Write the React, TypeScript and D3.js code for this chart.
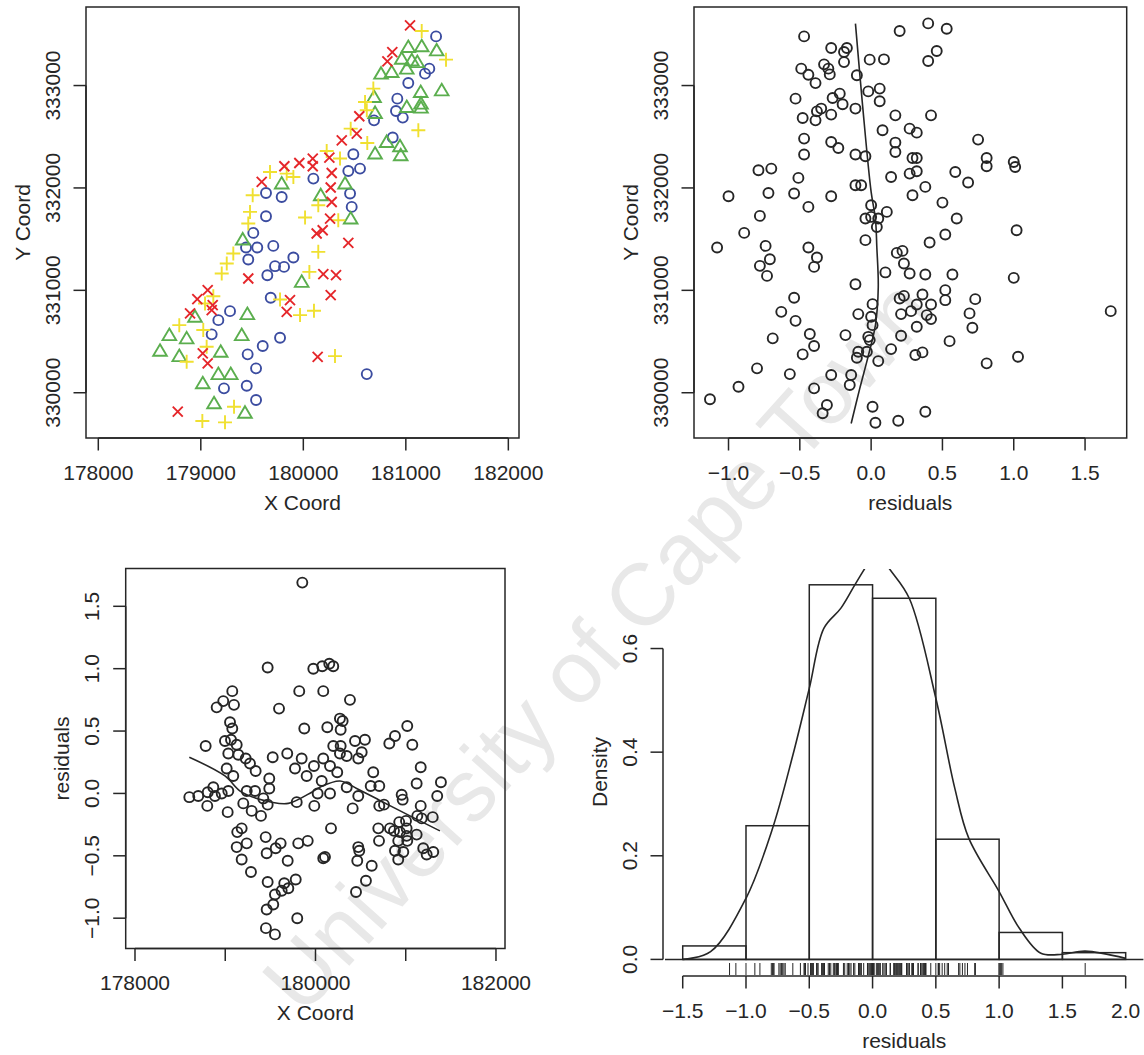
import React from "react";
import * as d3 from "d3";

const FONT = "'Liberation Sans', Arial, Helvetica, sans-serif";
const INK = "#262626";
const FS = 21;

// ---------- Panel 1: coordinates by residual class ----------
const crossPts: [number, number][] = [
  [181041,333587],[180868,333327],[180820,333236],[180546,332700],[180521,332531],[180375,332465],
  [180092,332287],[180092,332212],[180254,332296],[179961,332244],[179815,332212],[179594,332059],
  [180277,332146],[180267,332004],[180277,331863],[180261,331701],[180189,331587],[180130,331555],
  [180439,331463],[179463,331116],[180195,331158],[180319,331148],[180267,330953],[179870,330904],
  [179838,330790],[179067,331002],[178966,330914],[179116,330856],[179106,330807],[178895,330775],
  [179019,330384],[179067,330287],[180140,330351],[178775,329815]
];
const plusPts: [number, number][] = [
  [181155,333532],[181392,333253],[180683,332970],[180602,332839],[180619,332758],[180462,332579],
  [180624,332439],[181122,332563],[180228,332361],[180358,332287],[179675,332156],[179838,332140],
  [179903,332107],[179506,331929],[179480,331766],[179463,331653],[180017,331711],[180146,331831],
  [180341,331685],[179317,331360],[179253,331262],[179204,331165],[180146,331376],[180059,331180],
  [179773,330911],[179968,330758],[180104,330800],[179122,330943],[179041,330872],[178790,330660],
  [179024,330612],[179057,330449],[178862,330302],[180309,330358],[179324,329863],[179015,329724],
  [179236,329711]
];
const trianglePts: [number, number][] = [
  [181024,333376],[181155,333383],[181301,333343],[180960,333262],[181058,333246],[181112,333229],
  [181009,333165],[180758,333116],[180862,333132],[181145,332937],[181350,332953],[180690,332888],
  [181009,332790],[181148,332823],[181148,332784],[180700,332732],[180813,332449],[180943,332407],
  [180950,332319],[180700,332336],[179789,332043],[180407,332043],[180170,331929],[180462,331701],
  [179409,331497],[179984,331083],[179454,330768],[178943,330742],[179399,330563],[178693,330563],
  [178862,330531],[178602,330410],[178790,330358],[179194,330400],[179171,330182],[179292,330182],
  [179019,330092],[179129,329897],[179431,329805]
];
const circlePts: [number, number][] = [
  [181295,333480],[181229,333165],[181187,333116],[181024,333025],[180917,332872],[180904,332751],
  [180970,332687],[180690,332660],[180872,332492],[180488,332329],[180439,332166],[180553,332189],
  [180098,332091],[179636,331951],[179789,331912],[180456,331945],[180472,331815],[179636,331724],
  [179512,331561],[179441,331419],[179551,331419],[179707,331434],[179463,331301],[179903,331321],
  [179724,331236],[179812,331229],[179649,331148],[179682,330927],[179285,330797],[179171,330709],
  [179106,330570],[179773,330537],[179604,330456],[179457,330375],[179539,330238],[179226,330043],
  [179448,330068],[179539,329929],[180619,330182]
];

// ---------- Panel 2: residual vs Y coord ----------
const residY: [number, number][] = [
  [-0.47,333480],[-0.28,333366],[-0.19,333327],[-0.17,333366],[-0.01,333253],[0.09,333256],[0.20,333532],
  [0.40,333607],[0.53,333555],[0.46,333337],[0.40,333239],[-0.33,333207],[-0.30,333165],[-0.29,333109],
  [-0.19,333229],[-0.49,333165],[-0.44,333106],[-0.39,333024],[-0.10,333100],[-0.02,332943],[0.06,332970],
  [0.06,332846],[-0.53,332872],[-0.27,332878],[-0.22,332921],[-0.20,332817],[-0.11,332775],[-0.38,332748],
  [-0.35,332775],[-0.28,332716],[-0.48,332683],[-0.39,332660],[0.17,332709],[0.42,332709],[0.08,332563],
  [0.27,332579],[0.32,332540],[-0.47,332482],[-0.28,332449],[-0.23,332390],[0.17,332443],[0.17,332351],
  [-0.47,332326],[-0.11,332326],[-0.04,332309],[0.29,332293],[0.32,332293],[-0.79,332173],[-0.70,332189],
  [-0.51,332098],[-0.11,332026],[-0.07,332026],[0.14,332107],[0.27,332140],[0.32,332163],[0.38,332010],
  [0.29,331929],[0.50,331857],[-1.00,331919],[-0.72,331951],[-0.54,331945],[-0.28,331919],[-0.44,331815],
  [-0.78,331727],[0.00,331831],[0.11,331766],[-0.04,331701],[0.00,331717],[0.05,331701],[0.04,331619],
  [-0.89,331561],[-1.08,331419],[-0.74,331434],[-0.71,331304],[-0.78,331239],[-0.73,331141],[-0.44,331419],
  [-0.38,331321],[-0.40,331229],[-0.04,331490],[-0.11,331060],[0.10,331175],[0.18,331366],[0.22,331385],
  [0.23,331262],[0.27,331165],[0.38,331155],[0.41,331467],[0.52,331545],[0.57,331155],[-0.54,330927],
  [-0.63,330790],[-0.53,330702],[-0.69,330531],[-0.43,330573],[-0.40,330456],[-0.48,330375],[-0.18,330563],
  [0.01,330865],[-0.09,330768],[0.00,330742],[0.01,330660],[-0.02,330546],[-0.01,330514],[-0.09,330400],
  [-0.10,330341],[-0.03,330400],[0.05,330309],[0.14,330426],[0.21,330556],[0.21,330768],[0.20,330921],
  [0.23,330946],[0.28,330797],[0.32,330862],[0.36,330960],[0.42,330862],[0.39,330758],[0.42,330719],
  [0.32,330644],[0.31,330368],[0.36,330394],[0.52,331002],[0.52,330904],[0.55,330504],[-0.80,330238],
  [-0.93,330059],[-1.13,329936],[-0.57,330182],[-0.28,330173],[-0.14,330173],[-0.15,330075],[-0.40,330043],
  [-0.31,329880],[-0.34,329799],[0.01,329863],[0.03,329707],[0.19,329727],[0.38,329815],[0.75,332472],
  [0.81,332293],[0.81,332212],[1.00,332254],[1.01,332205],[0.59,332156],[0.68,332053],[0.60,331701],
  [1.02,331587],[1.00,331122],[0.73,330914],[0.69,330775],[0.71,330634],[0.81,330287],[1.03,330351],
  [1.68,330797]
];
const smoothResidY: [number, number][] = [
  [-0.11,333604],[-0.06,332807],[0.0,331961],[0.03,331700],[0.04,331420],[0.05,331030],
  [0.03,330660],[-0.02,330360],[-0.08,330040],[-0.14,329700]
];

// ---------- Panel 3: X coord vs residual ----------
const xResid: [number, number][] = [
  [179854,1.69],[179470,1.01],[179976,1.00],[180075,1.02],[179078,0.82],[178978,0.74],[178905,0.69],
  [179097,0.71],[179820,0.82],[180086,0.82],[179596,0.68],[179053,0.57],[179078,0.52],[179876,0.52],
  [178783,0.38],[178997,0.42],[179064,0.43],[179127,0.39],[179034,0.32],[179145,0.31],[179227,0.28],
  [179274,0.24],[179337,0.18],[179016,0.20],[179089,0.14],[179526,0.29],[179687,0.32],[179847,0.28],
  [179773,0.20],[179983,0.22],[179902,0.14],[180086,0.28],[179488,0.12],[179488,0.04],[180069,0.10],
  [178602,-0.03],[178701,-0.02],[178806,0.01],[178868,0.05],[178886,-0.02],[178961,0.00],[179034,0.02],
  [178801,-0.10],[179238,0.02],[179330,0.02],[179422,-0.04],[179200,-0.08],[179293,-0.14],[179396,-0.18],
  [179470,-0.09],[179792,-0.07],[179987,-0.10],[180024,0.00],[179027,-0.15],[179133,-0.31],[179182,-0.28],
  [179127,-0.43],[179238,-0.40],[179182,-0.53],[179285,-0.63],[179448,-0.35],[179459,-0.48],[179559,-0.44],
  [179614,-0.40],[179692,-0.54],[179809,-0.40],[179914,-0.38],[180086,-0.52],[179470,-0.71],[179654,-0.72],
  [179699,-0.76],[179781,-0.69],[179625,-0.78],[179551,-0.81],[179532,-0.89],[179459,-0.93],[179798,-1.00],
  [179451,-1.08],[179551,-1.13],[180153,1.04],[180197,1.02],[180382,0.75],[180131,0.53],[180271,0.60],
  [180301,0.58],[180279,0.51],[180197,0.38],[180279,0.38],[180271,0.32],[180346,0.30],[180438,0.42],
  [180548,0.43],[180512,0.33],[180474,0.28],[180161,0.22],[180241,0.17],[180161,0.00],[180346,0.05],
  [180474,-0.02],[180412,-0.12],[180640,0.17],[180612,0.06],[180707,0.06],[180707,-0.10],[180759,-0.09],
  [180818,0.40],[180881,0.46],[181017,0.54],[181073,0.39],[180955,-0.01],[180966,-0.05],[181166,0.21],
  [181121,0.08],[181390,0.09],[181349,-0.02],[181166,-0.10],[181128,-0.18],[181177,-0.20],[181299,-0.19],
  [180172,-0.28],[180105,-0.51],[180474,-0.43],[180485,-0.46],[180463,-0.54],[180623,-0.58],[180559,-0.70],
  [180449,-0.79],[180696,-0.28],[180704,-0.38],[180825,-0.28],[180870,-0.30],[180928,-0.23],[181003,-0.22],
  [180936,-0.31],[181010,-0.28],[181010,-0.34],[180917,-0.38],[181017,-0.38],[181121,-0.33],[180881,-0.46],
  [180973,-0.47],[180917,-0.53],[181194,-0.44],[181232,-0.49],[181305,-0.47]
];
const smoothXResid: [number, number][] = [
  [178602,0.29],[178997,0.14],[179182,0.01],[179515,-0.07],[179699,-0.08],[179958,0.01],
  [180050,0.05],[180271,0.10],[180456,0.04],[180751,-0.07],[181047,-0.18],[181379,-0.30]
];

// ---------- Panel 4: histogram of residuals ----------
const histBreaks = [-1.5, -1.0, -0.5, 0.0, 0.5, 1.0, 1.5, 2.0];
const histDensity = [0.026, 0.258, 0.723, 0.697, 0.232, 0.052, 0.013];
const kdeCurve: [number, number][] = [
  [-1.5,0.0],[-1.28,0.015],[-1.0,0.118],[-0.79,0.253],[-0.63,0.394],[-0.5,0.523],[-0.385,0.639],
  [-0.25,0.678],[-0.14,0.723],[-0.06,0.755],[0.03,0.79],[0.13,0.755],[0.29,0.697],[0.5,0.504],
  [0.65,0.33],[0.76,0.234],[1.0,0.131],[1.16,0.06],[1.33,0.012],[1.5,0.01],[1.68,0.016],[2.0,0.002]
];

// ---------- tick labels ----------
const coordXTicks = [178000, 179000, 180000, 181000, 182000];
const coordXLabelsTop = ["178000", "179000", "180000", "181000", "182000"];
const coordXLabelsBottom = ["178000", "", "180000", "", "182000"];
const coordYTicks = [330000, 331000, 332000, 333000];
const coordYLabels = ["330000", "331000", "332000", "333000"];
const residTicksTR = [-1.0, -0.5, 0.0, 0.5, 1.0, 1.5];
const residLabelsTR = ["\u22121.0", "\u22120.5", "0.0", "0.5", "1.0", "1.5"];
const residTicksBL = [-1.0, -0.5, 0.0, 0.5, 1.0, 1.5];
const residLabelsBL = ["\u22121.0", "\u22120.5", "0.0", "0.5", "1.0", "1.5"];
const histXTicks = [-1.5, -1.0, -0.5, 0.0, 0.5, 1.0, 1.5, 2.0];
const histXLabels = ["\u22121.5", "\u22121.0", "\u22120.5", "0.0", "0.5", "1.0", "1.5", "2.0"];
const densTicks = [0.0, 0.2, 0.4, 0.6];
const densLabels = ["0.0", "0.2", "0.4", "0.6"];

const TICK = 12.5;
const LAB = 34;
const TITLE = 64;

type Sc = d3.ScaleLinear<number, number>;

function XAxis({ sc, ticks, labels, y, title }: { sc: Sc; ticks: number[]; labels: string[]; y: number; title: string }) {
  const x0 = sc(ticks[0]);
  const x1 = sc(ticks[ticks.length - 1]);
  const mid = (sc.range()[0] + sc.range()[1]) / 2;
  return (
    <g>
      <line x1={x0} x2={x1} y1={y} y2={y} stroke={INK} strokeWidth={1.5} />
      {ticks.map((t, i) => (
        <g key={i}>
          <line x1={sc(t)} x2={sc(t)} y1={y} y2={y + TICK} stroke={INK} strokeWidth={1.5} />
          {labels[i] ? (
            <text x={sc(t)} y={y + LAB} textAnchor="middle" dominantBaseline="central">{labels[i]}</text>
          ) : null}
        </g>
      ))}
      <text x={mid} y={y + TITLE} textAnchor="middle" dominantBaseline="central">{title}</text>
    </g>
  );
}

function YAxis({ sc, ticks, labels, x, title }: { sc: Sc; ticks: number[]; labels: string[]; x: number; title: string }) {
  const y0 = sc(ticks[0]);
  const y1 = sc(ticks[ticks.length - 1]);
  const mid = (sc.range()[0] + sc.range()[1]) / 2;
  return (
    <g>
      <line x1={x} x2={x} y1={y0} y2={y1} stroke={INK} strokeWidth={1.5} />
      {ticks.map((t, i) => (
        <g key={i}>
          <line x1={x} x2={x - TICK} y1={sc(t)} y2={sc(t)} stroke={INK} strokeWidth={1.5} />
          <text transform={`translate(${x - LAB},${sc(t)}) rotate(-90)`} textAnchor="middle" dominantBaseline="central">{labels[i]}</text>
        </g>
      ))}
      <text transform={`translate(${x - TITLE},${mid}) rotate(-90)`} textAnchor="middle" dominantBaseline="central">{title}</text>
    </g>
  );
}

function Box({ xs, ys }: { xs: Sc; ys: Sc }) {
  const [x0, x1] = xs.range();
  const [y0, y1] = ys.range();
  return <rect x={Math.min(x0, x1)} y={Math.min(y0, y1)} width={Math.abs(x1 - x0)} height={Math.abs(y1 - y0)} fill="none" stroke={INK} strokeWidth={1.5} />;
}

const RED = "#E5262A";
const YELLOW = "#F0E030";
const GREEN = "#5BAE4E";
const BLUE = "#3B4CA0";

export default function App() {
  // panel 1
  const tlx = d3.scaleLinear().domain([177880, 182104]).range([86, 519]);
  const tly = d3.scaleLinear().domain([329558, 333767]).range([438, 7]);
  // panel 2
  const trx = d3.scaleLinear().domain([-1.242, 1.792]).range([694, 1126.7]);
  const tr_y = d3.scaleLinear().domain([329558, 333767]).range([438, 7]);
  // panel 3
  const blx = d3.scaleLinear().domain([177897, 182100]).range([125.7, 505]);
  const bly = d3.scaleLinear().domain([-1.243, 1.803]).range([948.5, 568.5]);
  // panel 4
  const hx = d3.scaleLinear().domain([-1.64, 2.14]).range([665, 1143.4]);
  const hy = d3.scaleLinear().domain([-0.0301, 0.7535]).range([975, 569]);

  const lineTR = d3.line<[number, number]>().x((d) => trx(d[0])).y((d) => tr_y(d[1])).curve(d3.curveCatmullRom);
  const lineBL = d3.line<[number, number]>().x((d) => blx(d[0])).y((d) => bly(d[1])).curve(d3.curveCatmullRom);
  const lineKde = d3.line<[number, number]>().x((d) => hx(d[0])).y((d) => hy(d[1])).curve(d3.curveCatmullRom);

  const sw = 1.9;

  return (
    <div style={{ position: "absolute", left: 0, top: 0 }}>
      <svg width={1144} height={1055} style={{ display: "block", background: "#fff" }} fontFamily={FONT} fontSize={FS} fill={INK}>
        <defs>
          <clipPath id="histClip">
            <rect x={665} y={569} width={478} height={406} />
          </clipPath>
        </defs>
        {/* watermark */}
        <text transform="translate(597,645) rotate(-48)" textAnchor="middle" dominantBaseline="central" fontSize={88} fill="#e8e8e8">
          University of Cape Town
        </text>

        {/* ---- Panel 1 ---- */}
        <Box xs={tlx} ys={tly} />
        <XAxis sc={tlx} ticks={coordXTicks} labels={coordXLabelsTop} y={438} title="X Coord" />
        <YAxis sc={tly} ticks={coordYTicks} labels={coordYLabels} x={86} title="Y Coord" />
        <g fill="none" strokeWidth={sw}>
          {circlePts.map((d, i) => (
            <circle key={"c" + i} cx={tlx(d[0])} cy={tly(d[1])} r={5} stroke={BLUE} />
          ))}
          {trianglePts.map((d, i) => {
            const x = tlx(d[0]);
            const y = tly(d[1]);
            return <path key={"t" + i} d={`M${x},${y - 6.5}L${x + 6.8},${y + 5}L${x - 6.8},${y + 5}Z`} stroke={GREEN} />;
          })}
          {plusPts.map((d, i) => {
            const x = tlx(d[0]);
            const y = tly(d[1]);
            return <path key={"p" + i} d={`M${x - 7},${y}H${x + 7}M${x},${y - 7}V${y + 7}`} stroke={YELLOW} />;
          })}
          {crossPts.map((d, i) => {
            const x = tlx(d[0]);
            const y = tly(d[1]);
            return <path key={"x" + i} d={`M${x - 5},${y - 5}L${x + 5},${y + 5}M${x - 5},${y + 5}L${x + 5},${y - 5}`} stroke={RED} />;
          })}
        </g>

        {/* ---- Panel 2 ---- */}
        <Box xs={trx} ys={tr_y} />
        <XAxis sc={trx} ticks={residTicksTR} labels={residLabelsTR} y={438} title="residuals" />
        <YAxis sc={tr_y} ticks={coordYTicks} labels={coordYLabels} x={694} title="Y Coord" />
        <g fill="none" stroke={INK} strokeWidth={sw}>
          {residY.map((d, i) => (
            <circle key={i} cx={trx(d[0])} cy={tr_y(d[1])} r={5} />
          ))}
        </g>
        <path d={lineTR(smoothResidY) || ""} fill="none" stroke={INK} strokeWidth={1.6} />

        {/* ---- Panel 3 ---- */}
        <Box xs={blx} ys={bly} />
        <XAxis sc={blx} ticks={coordXTicks} labels={coordXLabelsBottom} y={948.5} title="X Coord" />
        <YAxis sc={bly} ticks={residTicksBL} labels={residLabelsBL} x={125.7} title="residuals" />
        <g fill="none" stroke={INK} strokeWidth={sw}>
          {xResid.map((d, i) => (
            <circle key={i} cx={blx(d[0])} cy={bly(d[1])} r={5} />
          ))}
        </g>
        <path d={lineBL(smoothXResid) || ""} fill="none" stroke={INK} strokeWidth={1.6} />

        {/* ---- Panel 4 ---- */}
        <g fill="none" stroke={INK} strokeWidth={1.5}>
          {histDensity.map((d, i) => (
            <rect key={i} x={hx(histBreaks[i])} y={hy(d)} width={hx(histBreaks[i + 1]) - hx(histBreaks[i])} height={hy(0) - hy(d)} />
          ))}
        </g>
        <line x1={hx(-1.64)} x2={hx(2.14)} y1={hy(0)} y2={hy(0)} stroke={INK} strokeWidth={1.5} />
        <path d={lineKde(kdeCurve) || ""} fill="none" stroke={INK} strokeWidth={1.6} clipPath="url(#histClip)" />
        <g stroke={INK} strokeWidth={1}>
          {residY.map((d, i) => (
            <line key={i} x1={hx(d[0])} x2={hx(d[0])} y1={963} y2={975} />
          ))}
        </g>
        <XAxis sc={hx} ticks={histXTicks} labels={histXLabels} y={976} title="residuals" />
        <YAxis sc={hy} ticks={densTicks} labels={densLabels} x={663} title="Density" />
      </svg>
    </div>
  );
}
